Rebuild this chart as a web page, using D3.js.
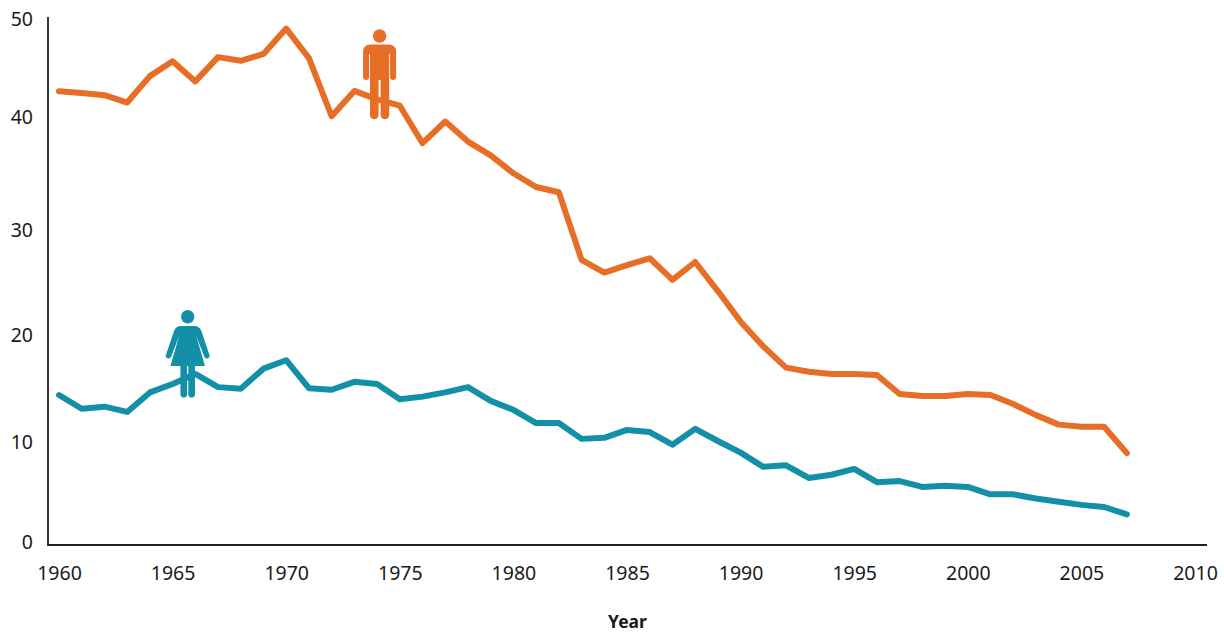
<!DOCTYPE html>
<html><head><meta charset="utf-8">
<script src="https://cdn.jsdelivr.net/npm/d3@7/dist/d3.min.js"></script>
<style>html,body{margin:0;padding:0;background:#fff}svg{display:block}
text{font-family:"Noto Sans","Open Sans",sans-serif;fill:#1a1a1a}</style></head>
<body><svg id="c" width="1224" height="632"></svg>
<script>
const years = d3.range(1960, 2008);
const menValues = [42.97,42.8,42.6,41.9,44.4,45.8,43.9,46.2,45.85,46.5,48.9,46.1,40.6,43.0,42.2,41.6,38.05,40.1,38.2,36.9,35.2,33.9,33.4,27.0,25.8,26.5,27.15,25.1,26.8,24.05,21.15,18.8,16.8,16.4,16.2,16.2,16.1,14.3,14.1,14.1,14.3,14.2,13.35,12.3,11.4,11.2,11.2,8.7];
const womenValues = [14.2,12.9,13.1,12.6,14.45,15.25,16.2,14.95,14.8,16.7,17.5,14.85,14.7,15.45,15.25,13.8,14.05,14.45,14.95,13.65,12.8,11.55,11.55,10.05,10.15,10.9,10.7,9.5,11.0,9.85,8.75,7.4,7.55,6.35,6.65,7.2,5.95,6.05,5.5,5.6,5.5,4.8,4.8,4.4,4.1,3.8,3.6,2.9];
const xTicks = [1960,1965,1970,1975,1980,1985,1990,1995,2000,2005,2010];
const yTicks = [0,10,20,30,40,50];
const xTitle = "Year";
const menColor = "#e76e26", womenColor = "#1390a8";

const svg = d3.select("#c");
const x = d3.scaleLinear().domain([1960,2010]).range([59,1195]);
const y = d3.scaleLinear().domain([0,50]).range([545,17]);

const axisLine = svg.append("g").attr("stroke","#222").attr("stroke-width",1.8).attr("fill","none");
axisLine.append("path").attr("d", d3.line()([[48,y(50)],[48,y(0)],[1207,y(0)]]));

// tick labels follow the reference's hand-placed offsets
const yNudge = {0:-4, 10:2, 20:1, 30:1, 40:-6.5, 50:1};
const yAxis = d3.axisLeft(y).tickValues(yTicks).tickSize(0).tickPadding(0);
const gy = svg.append("g").attr("transform","translate(33,0)").call(yAxis);
gy.select(".domain").remove();
gy.selectAll("text").attr("font-size",19.5).attr("font-family",null).attr("fill",null)
  .attr("dy",null).attr("dominant-baseline",null)
  .attr("y",d=>yNudge[d]+7);

const xAxis = d3.axisBottom(x).tickValues(xTicks).tickFormat(d3.format("d")).tickSize(0).tickPadding(0);
const gx = svg.append("g").attr("transform","translate(0,580)").call(xAxis);
gx.select(".domain").remove();
gx.selectAll("text").attr("font-size",19.5).attr("font-family",null).attr("fill",null).attr("dy",null).attr("y",0);

svg.append("text").attr("x",627.5).attr("y",628).attr("text-anchor","middle")
  .attr("font-size",17.5).attr("font-weight",700).text(xTitle);

const line = d3.line().x((d,i)=>x(years[i])).y(d=>y(d));
[[menValues,menColor],[womenValues,womenColor]].forEach(([v,c])=>{
  svg.append("path").attr("d",line(v)).attr("fill","none").attr("stroke",c)
    .attr("stroke-width",6).attr("stroke-linejoin","round").attr("stroke-linecap","round");
});

// pictograms
const man = svg.append("g").attr("transform","translate(379.6,0)").attr("fill",menColor);
man.append("circle").attr("cy",36).attr("r",6.7);
man.append("path").attr("d","M-9,44.5 H9 Q16.5,44.5 16.5,52 V77 A3,3 0 0 1 10.5,77 V54 H9.6 V115 A4.3,4.3 0 0 1 1,115 V80 H-1 V115 A4.3,4.3 0 0 1 -9.6,115 V54 H-10.5 V77 A3,3 0 0 1 -16.5,77 V52 Q-16.5,44.5 -9,44.5 Z");

const woman = svg.append("g").attr("transform","translate(187.7,0)").attr("fill",womenColor);
woman.append("circle").attr("cy",316.7).attr("r",6.7);
woman.append("path").attr("d","M-7,326 H7 Q11.5,326 13.5,330.5 L21.6,354.5 A2.7,2.7 0 0 1 16.6,356.8 L8.6,336 L17.3,366 H7.3 V394.7 A3.4,3.4 0 0 1 0.6,394.7 V366 H-0.6 V394.7 A3.4,3.4 0 0 1 -7.3,394.7 V366 H-17.3 L-8.6,336 L-16.6,356.8 A2.7,2.7 0 0 1 -21.6,354.5 L-13.5,330.5 Q-11.5,326 -7,326 Z");
</script></body></html>
